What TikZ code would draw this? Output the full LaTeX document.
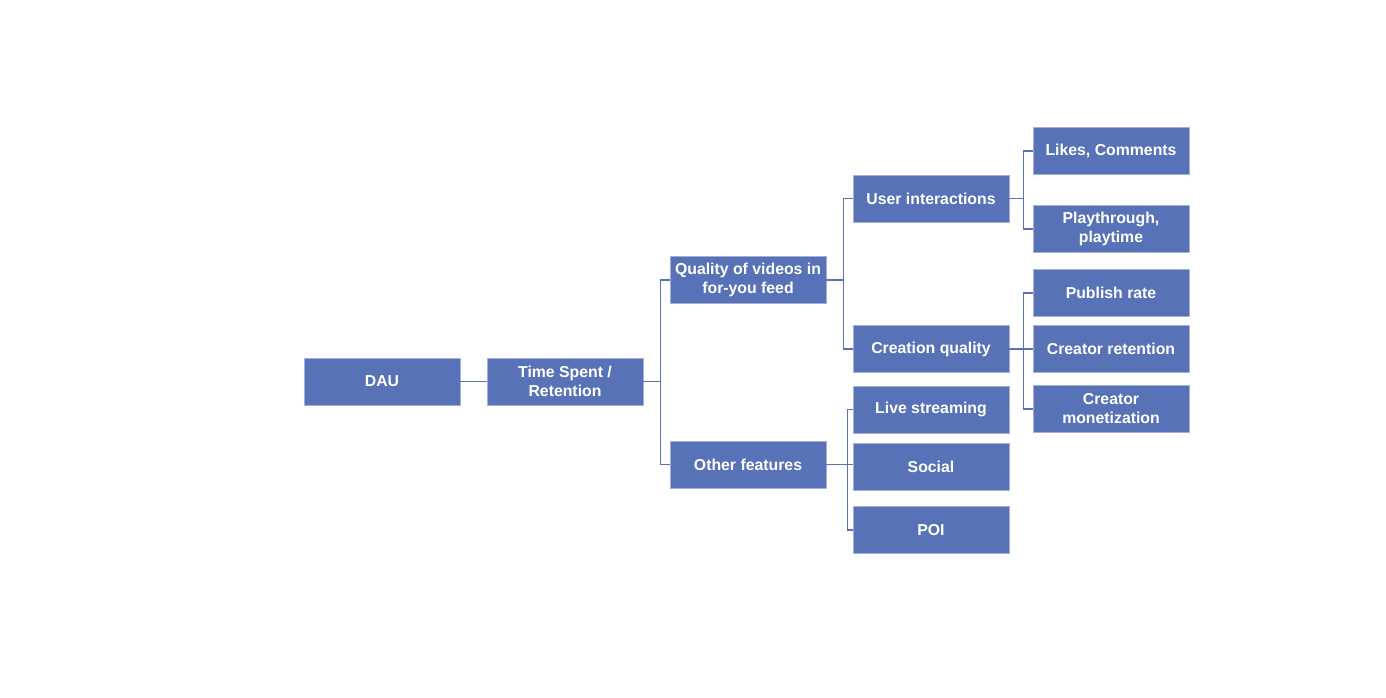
\documentclass[tikz,border=0pt]{standalone}
\usepackage{fontspec}
\setmainfont{Liberation Sans}
\usepackage{tikz}
\usetikzlibrary{positioning, arrows}
\definecolor{boxblue}{RGB}{88,114,184}
\tikzstyle{metric} = [rectangle, minimum width=3.12cm, minimum height=0.94cm, inner sep=1pt, text centered, align=center, draw=boxblue!55!white, line width=0.4pt, fill=boxblue, text=white, font=\fontsize{9}{10.8}\selectfont\bfseries]
\tikzstyle{link} = [draw=boxblue, line width=0.8pt]

\begin{document}
\begin{tikzpicture}[node distance=3.66cm]
\useasboundingbox (0,0) rectangle (27.72,-13.94);

\node (dau) [metric] at (7.64,-7.63) {DAU};
\node (time) [metric, right of=dau] {Time Spent /\\Retention};
\node (quality) [metric, right of=time, yshift=2.03cm] {Quality of videos in\\for-you feed};
\node (other) [metric, right of=time, yshift=-1.66cm] {Other features};
\node (user) [metric, right of=quality, yshift=1.63cm] {User interactions};
\node (creation) [metric, right of=quality, yshift=-1.38cm] {Creation quality};
\node (live) [metric, right of=other, yshift=1.10cm] {Live streaming};
\node (social) [metric, right of=other, yshift=-0.04cm] {Social};
\node (poi) [metric, right of=other, yshift=-1.31cm] {POI};
\node (likes) [metric, right of=user, xshift=-0.06cm, yshift=0.95cm] {Likes, Comments};
\node (play) [metric, right of=user, xshift=-0.06cm, yshift=-0.61cm] {Playthrough,\\playtime};
\node (publish) [metric, right of=creation, xshift=-0.06cm, yshift=1.12cm] {Publish rate};
\node (retain) [metric, right of=creation, xshift=-0.06cm] {Creator retention};
\node (monet) [metric, right of=creation, xshift=-0.06cm, yshift=-1.2cm] {Creator\\monetization};

\draw [link] (dau) -- (time);
\draw [link] (time.east) -- ++(0.34,0) |- (quality);
\draw [link] (time.east) -- ++(0.34,0) |- (other);
\draw [link] (quality.east) -- ++(0.34,0) |- (user);
\draw [link] (quality.east) -- ++(0.34,0) |- (creation);
\draw [link] (other.east) -- ++(0.42,0) |- (live);
\draw [link] (other.east) -- (social.west |- other.east);
\draw [link] (other.east) -- ++(0.42,0) |- (poi);
\draw [link] (user.east) -- ++(0.28,0) |- (likes);
\draw [link] (user.east) -- ++(0.28,0) |- (play);
\draw [link] (creation.east) -- ++(0.28,0) |- (publish);
\draw [link] (creation) -- (retain);
\draw [link] (creation.east) -- ++(0.28,0) |- (monet);

\end{tikzpicture}
\end{document}
